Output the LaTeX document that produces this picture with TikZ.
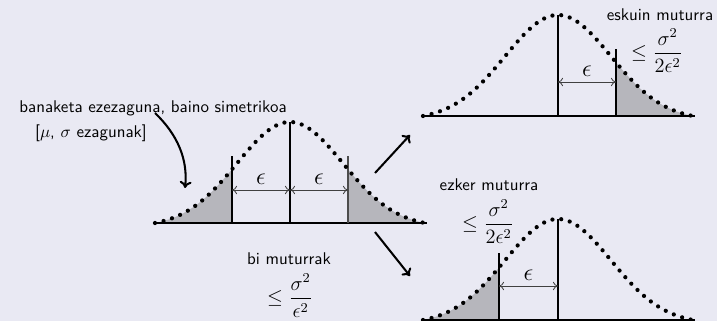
\documentclass[tikz,border=0pt]{standalone}
\usepackage{amsmath}
\usetikzlibrary{arrows.meta}
\definecolor{bgcol}{RGB}{233,233,243}
\definecolor{tailcol}{RGB}{182,182,188}
\tikzset{
  bellcurve/.style={line width=2.5pt, dash pattern=on 0pt off 5.2pt, line cap=round},
  axisline/.style={line width=1.2pt},
  vline/.style={line width=1.2pt},
  epsarrow/.style={line width=0.5pt, draw=black!75, {To[length=3pt,width=5pt]}-{To[length=3pt,width=5pt]}},
  flowarrow/.style={line width=1.2pt, -{To[length=4pt,width=7pt]}},
  txt/.style={font=\sffamily, inner sep=0pt},
  mathlbl/.style={inner sep=0pt, font=\large},
  epslbl/.style={inner sep=0pt, font=\Large},
}
\begin{document}
\begin{tikzpicture}[x=0.59pt, y=-0.59pt,
  declare function={bellf(\t)=101*(exp(-0.5*(\t/53)*(\t/53))-0.039)/0.961;}]
\fill[bgcol] (0,0) rectangle (717,321);
\useasboundingbox (0,0) rectangle (717,321);

% ---------- left panel: both tails ----------
\begin{scope}[shift={(290,223)}, yscale=-1]
  \fill[tailcol] (-135,0) -- plot[domain=-135:-58, samples=40, smooth] (\x,{bellf(\x)}) -- (-58,0) -- cycle;
  \fill[tailcol] (58,0) -- plot[domain=58:135, samples=40, smooth] (\x,{bellf(\x)}) -- (135,0) -- cycle;
  \draw[axisline] (-135,0) -- (137,0);
  \draw[vline] (0,0) -- (0,101);
  \draw[vline] (-58,0) -- (-58,67);
  \draw[vline, draw=black!70] (58,0) -- (58,67);
  \coordinate (lA) at (-58,33);
  \coordinate (lB) at (0,33);
  \coordinate (lC) at (58,33);
  \draw[bellcurve] plot[domain=-135:135, samples=120, smooth] (\x,{bellf(\x)});
\end{scope}
\draw[epsarrow] (lA) -- node[above=3pt, epslbl] (e1) {$\epsilon$} (lB);
\draw[epsarrow] (lB) -- node[above=3pt, epslbl] (e2) {$\epsilon$} (lC);

% ---------- top-right panel: right tail ----------
\begin{scope}[shift={(558,116)}, yscale=-1]
  \fill[tailcol] (58,0) -- plot[domain=58:135, samples=40, smooth] (\x,{bellf(\x)}) -- (135,0) -- cycle;
  \draw[axisline] (-135,0) -- (137,0);
  \draw[vline] (0,0) -- (0,101);
  \draw[vline] (58,0) -- (58,67);
  \coordinate (rA) at (0,34);
  \coordinate (rB) at (58,34);
  \draw[bellcurve] plot[domain=-135:135, samples=120, smooth] (\x,{bellf(\x)});
\end{scope}
\draw[epsarrow] (rA) -- node[above=3pt, epslbl] (e3) {$\epsilon$} (rB);

% ---------- bottom-right panel: left tail ----------
\begin{scope}[shift={(558,320)}, yscale=-1]
  \fill[tailcol] (-135,0) -- plot[domain=-135:-59, samples=40, smooth] (\x,{bellf(\x)}) -- (-59,0) -- cycle;
  \draw[axisline] (-135,0) -- (137,0);
  \draw[vline] (0,0) -- (0,101);
  \draw[vline] (-59,0) -- (-59,67);
  \coordinate (bA) at (-59,34);
  \coordinate (bB) at (0,34);
  \draw[bellcurve] plot[domain=-135:135, samples=120, smooth] (\x,{bellf(\x)});
\end{scope}
\draw[epsarrow] (bA) -- node[above=3pt, epslbl] (e4) {$\epsilon$} (bB);

% ---------- texts ----------
\node[txt] (desc) at (153,108) {banaketa ezezaguna, baino simetrikoa};
\node[txt] (known) at (91,133) {[$\mu$, $\sigma$ ezagunak]};
\node[txt] (both) at (289,259) {bi muturrak};
\node[mathlbl] (bothb) at (290,296) {$\leq \dfrac{\sigma^2}{\epsilon^2}$};
\node[txt] (right) at (660,15) {eskuin muturra};
\node[mathlbl] (rightb) at (657,51) {$\leq \dfrac{\sigma^2}{2\epsilon^2}$};
\node[txt] (left) at (489,185) {ezker muturra};
\node[mathlbl] (leftb) at (488,222) {$\leq \dfrac{\sigma^2}{2\epsilon^2}$};

% ---------- arrows ----------
\coordinate (cs) at (155,113);
\coordinate (ce) at (185,188);
\draw[line width=1.2pt, -{To[length=4pt,width=7pt]}] (cs) .. controls (178,135) and (188,160) .. (ce);
\coordinate (u1) at (375,173);
\coordinate (u2) at (410,135);
\coordinate (d1) at (375,232);
\coordinate (d2) at (410,276);
\draw[flowarrow] (u1) -- (u2);
\draw[flowarrow] (d1) -- (d2);
\end{tikzpicture}
\end{document}
